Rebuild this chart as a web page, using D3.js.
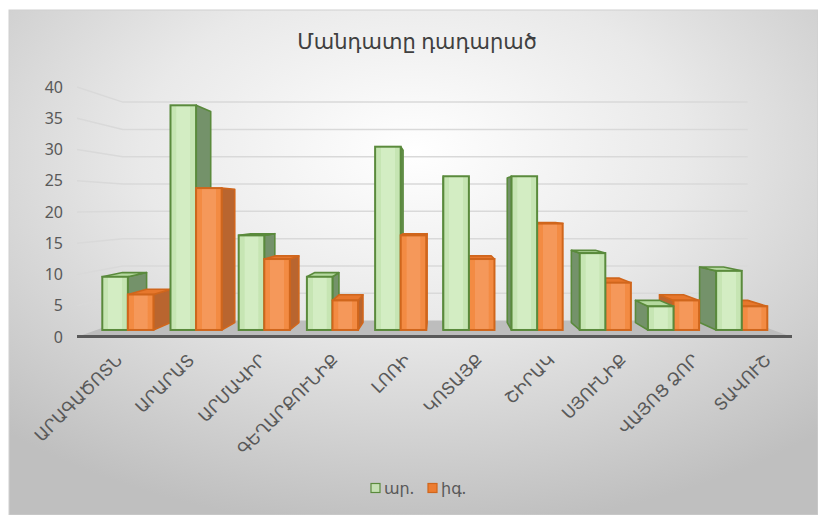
<!DOCTYPE html>
<html>
<head>
<meta charset="utf-8">
<script src="https://cdn.jsdelivr.net/npm/d3@7"></script>
<style>
  html, body { margin: 0; padding: 0; background: #ffffff; }
  svg { display: block; }
</style>
</head>
<body>
<svg id="chart" width="818" height="515"></svg>
<script>
// ---------------- data ----------------
const title = "Մանդատը դադարած";
const categories = ["ԱՐԱԳԱԾՈՏՆ", "ԱՐԱՐԱՏ", "ԱՐՄԱՎԻՐ", "ԳԵՂԱՐՔՈՒՆԻՔ", "ԼՈՌԻ",
                    "ԿՈՏԱՅՔ", "ՇԻՐԱԿ", "ՍՅՈՒՆԻՔ", "ՎԱՅՈՑ ՁՈՐ", "ՏԱՎՈՒՇ"];
const seriesNames = ["ար.", "իգ."];
const maleValues = [9, 38, 16, 9, 31, 26, 26, 13, 4, 10];
const femaleValues = [6, 24, 12, 5, 16, 12, 18, 8, 5, 4];
const yTicks = [0, 5, 10, 15, 20, 25, 30, 35, 40];

// ---------------- styles ----------------
const FONT = "'Noto Sans', 'DejaVu Sans', sans-serif";
const seriesStyle = [
  { front: "#c6e5b3", frontHi: "#d3edc3", side: "#74926a", top: "#b5d99f", stroke: "#5a8a3c", legendFill: "#c6e0b4" },
  { front: "#f38b43", frontHi: "#f5985a", side: "#b9652f", top: "#e7772c", stroke: "#d0661c", legendFill: "#ed7d31" }
];

const svg = d3.select("#chart");
const W = 818, H = 515;

// background
const defs = svg.append("defs");
const bg = defs.append("radialGradient").attr("id", "bgGrad")
  .attr("cx", "50%").attr("cy", "28%").attr("r", "75%");
bg.append("stop").attr("offset", "0%").attr("stop-color", "#ffffff");
bg.append("stop").attr("offset", "45%").attr("stop-color", "#e9e9e9");
bg.append("stop").attr("offset", "100%").attr("stop-color", "#bfbfbf");

seriesStyle.forEach((s, i) => {
  const g = defs.append("linearGradient").attr("id", "frontGrad" + i)
    .attr("x1", "0%").attr("x2", "100%").attr("y1", "0%").attr("y2", "0%");
  g.append("stop").attr("offset", "0%").attr("stop-color", s.front);
  g.append("stop").attr("offset", "22%").attr("stop-color", s.front);
  g.append("stop").attr("offset", "24%").attr("stop-color", s.frontHi);
  g.append("stop").attr("offset", "76%").attr("stop-color", s.frontHi);
  g.append("stop").attr("offset", "78%").attr("stop-color", s.front);
  g.append("stop").attr("offset", "100%").attr("stop-color", s.front);
});

svg.append("rect").attr("x", 0).attr("y", 0).attr("width", W).attr("height", H).attr("fill", "#ffffff");
svg.append("rect").attr("x", 9).attr("y", 10).attr("width", W - 9).attr("height", H - 10)
  .attr("fill", "url(#bgGrad)").attr("stroke", "#cfcfcf").attr("stroke-width", 1);

// ---------------- 3D projection ----------------
const V = { x: 440, y: 207 };          // vanishing point
const fBarFront = 0.946, fBarBack = 0.946 * 0.94, fWall = 0.874;
function proj(xw, yw, f) { return [V.x + f * (xw - V.x), V.y + f * (yw - V.y)]; }

const y = d3.scaleLinear().domain([0, 40]).range([337, 87]);
const x = d3.scaleBand().domain(categories).range([74, 795]).paddingInner(0.25).paddingOuter(0.125);
const xs = d3.scaleBand().domain([0, 1]).range([0, x.bandwidth()]);

const floorL = 77, floorR = 792;

// gridlines (back wall + left wall)
const grid = svg.append("g");
yTicks.filter(t => t > 0).forEach(t => {
  const a = proj(floorL, y(t), 1), b = proj(floorL, y(t), fWall), c = proj(floorR, y(t), fWall);
  grid.append("path")
    .attr("d", d3.line()([a, b, c]))
    .attr("fill", "none").attr("stroke", "#d9d9d9").attr("stroke-width", 1.5);
});

// floor
const fl = [proj(floorL, y(0), 1), proj(floorR, y(0), 1), proj(floorR, y(0), fWall), proj(floorL, y(0), fWall)];
svg.append("path").attr("d", d3.line()(fl) + "Z").attr("fill", "#bdbdbd");
svg.append("line").attr("x1", floorL).attr("x2", floorR).attr("y1", y(0) - 0.5).attr("y2", y(0) - 0.5)
  .attr("stroke", "#595959").attr("stroke-width", 3);

// y axis labels
svg.append("g").selectAll("text").data(yTicks).join("text")
  .attr("x", 63).attr("y", d => y(d)).attr("dy", "0.35em")
  .attr("text-anchor", "end").attr("font-family", FONT).attr("font-size", 16)
  .attr("fill", "#595959").text(d => d);

// ---------------- bars ----------------
const bars = [];
categories.forEach((c, i) => {
  [maleValues[i], femaleValues[i]].forEach((v, s) => {
    bars.push({ cat: c, i, s, v, x0: x(c) + xs(s), x1: x(c) + xs(s) + xs.bandwidth() });
  });
});
// painter's order: far from vanishing point first
function screenX(xw) { return V.x + fBarFront * (xw - V.x); }
bars.sort((a, b) => {
  const ca = (a.x0 + a.x1) / 2, cb = (b.x0 + b.x1) / 2;
  return Math.abs(screenX(cb) - V.x) - Math.abs(screenX(ca) - V.x);
});

const barG = svg.append("g");
bars.forEach(b => {
  const st = seriesStyle[b.s];
  const yt = y(b.v), yb = y(0);
  const FL = proj(b.x0, yt, fBarFront), FR = proj(b.x1, yt, fBarFront);
  const FBL = proj(b.x0, yb, fBarFront), FBR = proj(b.x1, yb, fBarFront);
  const BL = proj(b.x0, yt, fBarBack), BR = proj(b.x1, yt, fBarBack);
  const BBL = proj(b.x0, yb, fBarBack), BBR = proj(b.x1, yb, fBarBack);
  const g = barG.append("g");
  const face = (pts, fill) => g.append("path").attr("d", d3.line()(pts) + "Z")
    .attr("fill", fill).attr("stroke", st.stroke).attr("stroke-width", 1.6).attr("stroke-linejoin", "round");
  // side face
  if (FR[0] < V.x) face([FR, BR, BBR, FBR], st.side);
  else if (FL[0] > V.x) face([FL, BL, BBL, FBL], st.side);
  // top face (visible when below eye level)
  if (FL[1] > V.y) face([FL, FR, BR, BL], st.top);
  // front face
  g.append("rect").attr("x", FL[0]).attr("y", FL[1]).attr("width", FR[0] - FL[0]).attr("height", FBL[1] - FL[1])
    .attr("fill", `url(#frontGrad${b.s})`).attr("stroke", st.stroke).attr("stroke-width", 2);
});

// ---------------- category labels ----------------
svg.append("g").selectAll("text").data(categories).join("text")
  .attr("transform", d => `translate(${x(d) + x.bandwidth() / 2 + 9},357) rotate(-45)`)
  .attr("dy", "0.35em").attr("text-anchor", "end")
  .attr("font-family", FONT).attr("font-size", 17).attr("fill", "#595959")
  .text(d => d);

// ---------------- title ----------------
svg.append("text").attr("x", 417).attr("y", 49).attr("text-anchor", "middle")
  .attr("font-family", FONT).attr("font-size", 21).attr("fill", "#404040")
  .text(title);

// ---------------- legend ----------------
const legendX = [371, 428];
const lg = svg.append("g");
seriesNames.forEach((n, i) => {
  lg.append("rect").attr("x", legendX[i]).attr("y", 483.5).attr("width", 9).attr("height", 9)
    .attr("fill", seriesStyle[i].legendFill).attr("stroke", seriesStyle[i].stroke).attr("stroke-width", 1.2);
  lg.append("text").attr("x", legendX[i] + 13).attr("y", 494)
    .attr("font-family", FONT).attr("font-size", 16).attr("fill", "#595959").text(n);
});
</script>
</body>
</html>
